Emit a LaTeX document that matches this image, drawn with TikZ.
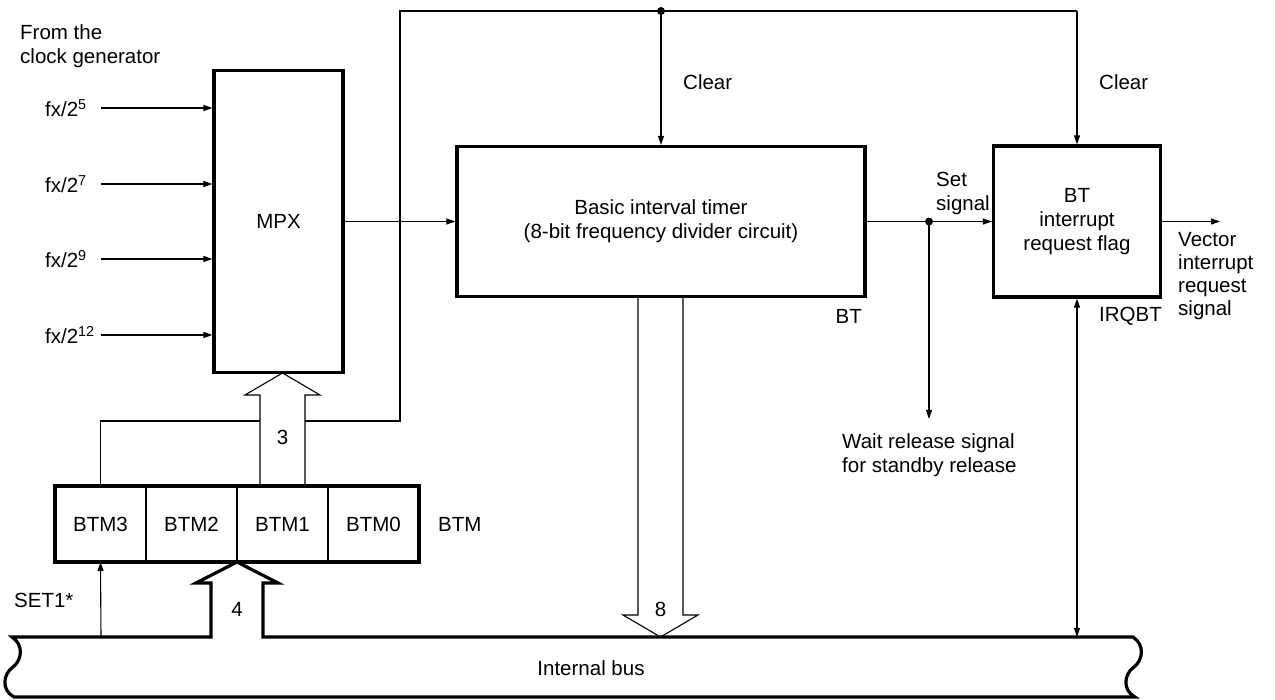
\documentclass[tikz,border=0pt]{standalone}
\usepackage{fontspec}
\setmainfont{Liberation Sans}
\usetikzlibrary{positioning,arrows.meta}

\begin{document}
\begin{tikzpicture}[x=1pt,y=-1pt,
	>={Triangle[length=9pt,width=6pt]},
	every node/.style={font=\fontsize{20.5}{24}\selectfont,inner sep=0pt},
	wire/.style={line width=1.1pt},
	blk/.style={draw,line width=3.2pt},
	cell/.style={draw,line width=1.1pt,minimum width=91pt,minimum height=76pt,outer sep=0pt},
	bus/.style={line width=3.2pt,line join=miter},
	junct/.style={circle,fill,minimum size=8pt}]
	\useasboundingbox (0,0) rectangle (1275,700);
	% blocks
	\node [blk,minimum width=129pt,minimum height=302pt] (mpx) at (278.5,221.5) {MPX};
	\node [blk,minimum width=408pt,minimum height=150pt,align=center] (bt) at (661,221.5)
		{Basic interval timer\\(8-bit frequency divider circuit)};
	\node [blk,minimum width=167pt,minimum height=151pt,align=center] (irq) at (1077,221.5)
		{BT\\interrupt\\request flag};
	\node [cell] (btm3) at (100.5,524) {BTM3};
	\node [cell,right=0pt of btm3] (btm2) {BTM2};
	\node [cell,right=0pt of btm2] (btm1) {BTM1};
	\node [cell,right=0pt of btm1] (btm0) {BTM0};
	\draw [line width=3.2pt] (btm3.north west) rectangle (btm0.south east);
	\node [right=19pt of btm0] (btmlbl) {BTM};

	% clock inputs
	\node [anchor=north west,align=left] (clk) at (20,24) {From the\\clock generator};
	\node [anchor=west] (f5) at (45,108) {fx/2\textsuperscript{5}};
	\node [anchor=west] (f7) at (45,184) {fx/2\textsuperscript{7}};
	\node [anchor=west] (f9) at (45,259) {fx/2\textsuperscript{9}};
	\node [anchor=west] (f12) at (45,335) {fx/2\textsuperscript{12}};
	\coordinate (i5) at (101,108);
	\coordinate (i7) at (101,184);
	\coordinate (i9) at (101,259);
	\coordinate (i12) at (101,335);
	\draw [wire,->] (i5) -- (i5 -| mpx.west);
	\draw [wire,->] (i7) -- (i7 -| mpx.west);
	\draw [wire,->] (i9) -- (i9 -| mpx.west);
	\draw [wire,->] (i12) -- (i12 -| mpx.west);
	\draw [wire,->] (mpx) -- (bt);

	% clear loop
	\coordinate (lk) at (400,421);
	\coordinate (tl) at (400,11);
	\coordinate (tj) at (661,11);
	\coordinate (tr) at (1077,11);
	\coordinate (s3l) at (260,421);
	\coordinate (s3r) at (305,421);
	\draw [wire] (btm3.north) |- (s3l);
	\draw [wire] (s3r) -- (lk) -- (tl) -- (tr);
	\draw [wire,->] (tj) -- (bt.north);
	\draw [wire,->] (tr) -- (irq.north);
	\node [junct] (tdot) at (tj) {};
	\node [anchor=west] (clr1) at (683,82) {Clear};
	\node [anchor=west] (clr2) at (1099,82) {Clear};

	% 3 bit and 8 bit hollow arrows
	\draw [wire,line join=miter] (260,486) -- (260,395) -- (245,395) -- (282.5,373)
		-- (320,395) -- (305,395) -- (305,486);
	\node (n3) at (282.5,437) {3};
	\draw [wire,line join=miter] (638,296) -- (638,615) -- (623,615) -- (660.5,637)
		-- (698,615) -- (683,615) -- (683,296);
	\node (n8) at (660.5,609) {8};

	% internal bus with 4 bit arrow
	\draw [bus] (12,637) -- (211,637) -- (211,583) -- (196,583) -- (237,562) -- (278,583)
		-- (263,583) -- (263,637) -- (1133,637)
		.. controls (1145,645) and (1143,660) .. (1134,667)
		.. controls (1124,674) and (1122,690) .. (1135,697) -- (14,697)
		.. controls (1,690) and (3,674) .. (13,667)
		.. controls (22,660) and (24,645) .. (12,637) -- cycle;
	\node (n4) at (237,609) {4};
	\node (busl) at (591,668) {Internal bus};
	\coordinate (setb) at (101,637);
	\draw [wire,->] (setb) -- (btm3.south);
	\node [anchor=west] (set1) at (14,600) {SET1*};

	% set signal and outputs
	\draw [wire,->] (bt) -- (irq);
	\coordinate (sj) at (929,221.5);
	\coordinate (wt) at (929,419);
	\draw [wire,->] (sj) -- (wt);
	\node [junct] (sdot) at (sj) {};
	\node [anchor=north west,align=left] (setlbl) at (936,172) {Set\\signal};
	\node [anchor=north west,align=left] (wait) at (842,433)
		{Wait release signal\\for standby release};
	\coordinate (vo) at (1220,221.5);
	\draw [wire,->] (irq) -- (vo);
	\node [anchor=north west,align=left,font=\fontsize{20.5}{23}\selectfont] (vec) at (1178,232)
		{Vector\\interrupt\\request\\signal};
	\coordinate (ib) at (1077,637);
	\draw [wire,<->] (irq) -- (ib);
	\node [anchor=north east] (irqlbl) at (1162,307) {IRQBT};
	\node [anchor=north east] (btlbl) at (862,309) {BT};
\end{tikzpicture}
\end{document}
